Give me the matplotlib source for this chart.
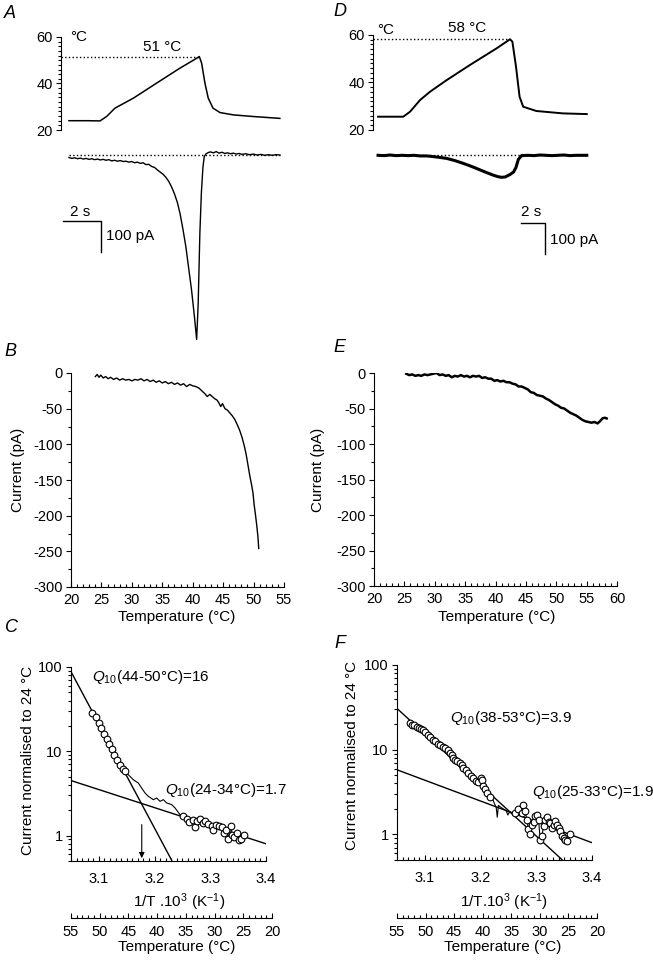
import numpy as np
import matplotlib.pyplot as plt
from matplotlib.ticker import MultipleLocator, LogLocator, NullFormatter, FormatStrFormatter

# ---------------- data ----------------
# A: temperature ramp (time s, degC) and membrane current (time s, pA)
a_time = [0, 1.0, 1.63, 1.98, 2.42, 3.39, 4.6, 5.84, 6.75, 6.86, 6.98, 7.16, 7.33,
          7.58, 7.95, 8.65, 9.7, 11.1]
a_temp = [24, 24, 23.9, 25.8, 29.4, 33.7, 40.1, 46.6, 51.0, 51.6, 48.8, 40, 33.7,
          29.4, 27.5, 26.5, 25.8, 25]
a_cur_t = [0.0, 0.15, 0.3, 0.45, 0.6, 0.75, 0.9, 1.05, 1.2, 1.35, 1.5, 1.65, 1.8, 1.95,
           2.1, 2.25, 2.4, 2.55, 2.7, 2.85, 3.0, 3.15, 3.3, 3.45, 3.6, 3.75, 3.9, 4.05,
           4.2, 4.35, 4.5, 4.65, 4.8, 4.95, 5.1, 5.25, 5.4, 5.55, 5.7, 5.85, 6.0, 6.15,
           6.3, 6.45, 6.6, 6.72, 6.8, 6.89, 6.97, 7.05, 7.12, 7.2, 7.33, 7.45, 7.6,
           7.75, 7.9, 8.05, 8.2, 8.35, 8.5, 8.65, 8.8, 8.95, 9.1, 9.3, 9.5, 9.7, 9.9,
           10.1, 10.3, 10.5, 10.7, 10.9, 11.1]
a_cur = [-8, -11, -9, -12, -10, -13, -11, -14, -12, -15, -13, -16, -14, -17,
         -15, -19, -17, -20, -18, -21, -20, -23, -21, -25, -23, -27, -25, -31,
         -30, -37, -40, -48, -55, -62, -72, -85, -103, -125, -152, -190, -240, -295,
         -365, -435, -520, -595, -480, -250, -120, -40, -5, 3, 8, 10, 7,
         11, 6, 9, 5, 7, 4, 6, 3, 5, 2, 4, 1, 3, 0,
         2, -1, 1, -1, 1, 0]

# D: temperature ramp and current
d_time = [0, 2.1, 2.67, 3.5, 4.33, 5.72, 7.67, 9.89, 11.0, 11.2, 11.5, 11.8, 12.1,
          13.2, 15.4, 17.4]
d_temp = [25.6, 25.6, 27.7, 32.6, 36.1, 41, 47.4, 54.4, 58.2, 57.2, 46.7, 34, 29.8,
          28, 27, 26.7]
d_cur_t = [0, 0.5, 1, 1.5, 2, 2.5, 3, 3.5, 4, 4.33, 5, 5.72, 6.4, 7.1, 7.8, 8.5, 9.0,
           9.6, 10.0, 10.3, 10.6, 11.0, 11.3, 11.5, 11.7, 11.97, 12.5, 13, 13.5, 14,
           14.5, 15, 15.5, 16, 16.5, 17, 17.4]
d_cur = [-1, -2, 0, -2, -1, -2, -1, -3, -3, -4, -7, -11, -18, -27, -37, -48, -56,
         -65, -70, -72, -71, -63, -55, -40, -14, -2, -1, -2, 0, -1,
         -2, -1, 0, -2, -1, -1, -1]

# B: current vs temperature
b_temp = [24.0, 24.3, 24.6, 24.9, 25.3, 25.7, 26.1, 26.5, 27, 27.5, 28, 28.5, 29, 29.5,
          30, 30.5, 31, 31.5, 32, 32.5, 33, 33.5, 34, 34.5, 35, 35.5, 36, 36.5, 37,
          37.5, 38, 38.5, 39, 39.5, 40, 40.5, 41, 41.5, 42, 42.4, 42.8, 43.2, 43.6,
          44, 44.3, 44.6, 44.9, 45.3, 45.7, 46.1, 46.5, 46.9, 47.3, 47.7, 48.1, 48.5,
          48.8, 49.1, 49.4, 49.7, 49.9, 50.1, 50.3, 50.5, 50.7, 50.85]
b_cur = [-5, -2, -6, -3, -7, -5, -8, -6, -9, -7, -10, -8, -10, -9,
         -11, -9, -10, -8, -11, -9, -12, -10, -13, -11, -14, -12, -15, -13, -16,
         -14, -17, -15, -19, -16, -18, -19, -21, -25, -29, -33, -30, -33, -36,
         -38, -42, -47, -43, -50, -52, -56, -60, -65, -72, -80, -90, -103,
         -115, -130, -145, -158, -168, -185, -198, -212, -228, -246]

# E: current vs temperature
e_temp = [25.3, 25.8, 26.3, 26.8, 27.3, 27.8, 28.3, 28.8, 29.3, 29.8, 30.3, 30.8, 31.3,
          31.8, 32.3, 32.8, 33.3, 33.8, 34.3, 34.8, 35.3, 35.8, 36.3, 36.8, 37.3, 37.8,
          38.3, 38.8, 39.3, 39.8, 40.3, 40.8, 41.3, 41.8, 42.3, 42.8, 43.3, 43.8, 44.3,
          44.8, 45.3, 45.8, 46.3, 46.8, 47.3, 47.8, 48.3, 48.8, 49.3, 49.8, 50.3, 50.8,
          51.3, 51.8, 52.3, 52.8, 53.3, 53.8, 54.3, 54.8, 55.3, 55.8, 56.3, 56.8, 57.2,
          57.6, 58.0, 58.3]
e_cur = [-1, -3, -2, -4, -3, -4, -2, -3, -2, -1, 0, -3, -2,
         -4, -3, -6, -4, -5, -3, -5, -4, -6, -4, -5, -4, -7,
         -6, -8, -8, -11, -10, -12, -11, -13, -13, -15, -16, -19, -19,
         -21, -23, -27, -28, -31, -32, -33, -36, -38, -41, -44, -46, -49,
         -50, -53, -56, -58, -60, -63, -66, -68, -69, -70, -69, -71, -68,
         -64, -63, -64]

# C: Arrhenius plot (1/T x 10^3, normalised current)
c_hi_x = [3.088, 3.095, 3.100, 3.1045, 3.109, 3.114, 3.119, 3.124, 3.128, 3.133,
          3.138, 3.143, 3.1475]
c_hi_y = [28.8, 25.4, 21.9, 18.8, 16.1, 13.9, 12.3, 10.6, 9.1, 7.9, 6.9, 6.2, 5.8]
c_mid_x = [3.1529, 3.1619, 3.1709, 3.1769, 3.1829, 3.1889, 3.1978, 3.2038, 3.2098,
           3.2158, 3.2218, 3.2308, 3.2367, 3.2457]
c_mid_y = [5.27, 4.6, 4.2, 3.66, 3.2, 2.92, 2.67, 2.79, 2.55, 2.67, 2.44, 2.33, 2.13, 1.77]
c_lo_x = [3.2505, 3.2577, 3.2624, 3.2684, 3.2726, 3.2768, 3.2816, 3.2864, 3.2912, 3.2966,
          3.3025, 3.3055, 3.3103, 3.3151, 3.3205, 3.3253, 3.3283, 3.3319, 3.3367, 3.3396,
          3.3432, 3.3486, 3.3522, 3.3558, 3.3612]
c_lo_y = [1.69, 1.59, 1.45, 1.55, 1.27, 1.50, 1.57, 1.41, 1.48, 1.39,
          1.31, 1.16, 1.35, 1.29, 1.27, 1.08, 1.16, 0.90, 1.29, 1.03,
          0.96, 1.06, 0.88, 0.90, 1.03]
c_fit_steep = ([3.05, 3.2307], [88, 0.51])
c_fit_flat = ([3.05, 3.4], [4.5, 0.80])
c_arrow_x = 3.177

# F: Arrhenius plot
f_hi_x = [3.073, 3.077, 3.081, 3.085, 3.089, 3.093, 3.097, 3.101, 3.106, 3.110, 3.115,
          3.119, 3.124, 3.128, 3.133, 3.137, 3.142, 3.145, 3.148, 3.151, 3.154, 3.158,
          3.163, 3.166, 3.169, 3.173, 3.178, 3.182, 3.187, 3.192, 3.196, 3.200, 3.202,
          3.205, 3.208, 3.211, 3.217]
f_hi_y = [20.6, 19.5, 19.8, 18.8, 18.0, 17.6, 16.9, 16.0, 15.0, 14.2, 13.1,
          12.6, 11.8, 11.3, 10.9, 10.6, 10.0, 9.2, 8.7, 8.0, 7.6, 7.4,
          7.0, 6.6, 6.1, 5.7, 5.3, 4.9, 4.6, 4.3, 4.2, 4.6, 4.4,
          3.7, 3.4, 3.1, 2.8]
f_mid_x = [3.221, 3.225, 3.228, 3.230, 3.232, 3.236, 3.241, 3.246, 3.249, 3.252, 3.257]
f_mid_y = [2.7, 2.3, 2.1, 1.6, 2.2, 2.1, 2.0, 1.9, 1.7, 1.85, 1.8]
f_lo_x = [3.262, 3.268, 3.274, 3.277, 3.280, 3.283, 3.286, 3.289, 3.292, 3.295, 3.298,
          3.301, 3.304, 3.307, 3.310, 3.313, 3.316, 3.319, 3.322, 3.325, 3.328, 3.331,
          3.334, 3.337, 3.340, 3.343, 3.346, 3.349, 3.352, 3.355, 3.361]
f_lo_y = [1.8, 2.0, 1.8, 2.2, 1.9, 1.5, 1.15, 1.0, 1.3, 1.4, 1.65,
          1.7, 1.5, 0.87, 0.95, 1.25, 1.5, 1.6, 1.4, 1.37, 1.2, 1.3,
          1.44, 1.3, 1.2, 1.1, 0.95, 0.9, 0.87, 0.83, 1.0]
f_fit_steep = ([3.05, 3.346], [30.7, 0.506])
f_fit_flat = ([3.05, 3.4], [5.8, 0.80])

temp_ticks = [55, 50, 45, 40, 35, 30, 25, 20]

# ---------------- figure ----------------
W, H = 653, 960
plt.rcParams['font.family'] = ['Liberation Sans', 'DejaVu Sans']
plt.rcParams['font.size'] = 11
plt.rcParams['xtick.labelsize'] = 10.5
plt.rcParams['ytick.labelsize'] = 10.5
plt.rcParams['axes.unicode_minus'] = False
plt.rcParams['mathtext.fontset'] = 'custom'
plt.rcParams['mathtext.rm'] = 'Liberation Sans'
plt.rcParams['mathtext.it'] = 'Liberation Sans:italic'

fig = plt.figure(figsize=(W / 100, H / 100), dpi=100)


def rect(l, t, r, b):
    return [l / W, 1 - b / H, (r - l) / W, (b - t) / H]


def txt(x, y, s, **kw):
    kw.setdefault('va', 'center')
    fig.text(x / W, 1 - y / H, s, **kw)


def bare(ax, left=True, bottom=True):
    for s in ['top', 'right']:
        ax.spines[s].set_visible(False)
    ax.spines['left'].set_visible(left)
    ax.spines['bottom'].set_visible(bottom)
    for s in ['left', 'bottom']:
        ax.spines[s].set_linewidth(0.8)
    ax.patch.set_alpha(0)


def yticks_out(ax):
    ax.tick_params(axis='y', which='major', direction='out', length=3.5, width=0.8, pad=2.5)
    ax.tick_params(axis='y', which='minor', direction='out', length=2, width=0.8)


def xticks_in(ax, pad):
    ax.tick_params(axis='x', which='major', direction='in', length=3.5, width=0.8, pad=pad)
    ax.tick_params(axis='x', which='minor', direction='in', length=2, width=0.8)


# ---- A ----
ax = fig.add_axes(rect(61, 37, 285, 130))
ax.plot(a_time, a_temp, color='k', lw=1.1)
ax.plot([-0.42, 6.86], [51.6, 51.6], color='k', lw=1, ls=':')
ax.set_xlim(-0.42, 11.37)
ax.set_ylim(20, 60)
bare(ax, bottom=False)
ax.set_xticks([])
ax.set_yticks([20, 40, 60])
ax.yaxis.set_minor_locator(MultipleLocator(2))
yticks_out(ax)

ax = fig.add_axes(rect(61, 140, 285, 350))
ax.plot(a_cur_t, a_cur, color='k', lw=1)
ax.plot([0, 11.1], [0, 0], color='k', lw=1, ls=':')
ax.plot([-0.32, 1.68, 1.68], [-213, -213, -313], color='k', lw=1, clip_on=False)
ax.set_xlim(-0.42, 11.37)
ax.set_ylim(-629, 48.4)
ax.axis('off')

txt(70, 37, '°C', ha='left')
txt(162, 47, '51 °C', ha='center')
txt(80, 212, '2 s', ha='center')
txt(106, 236, '100 pA', ha='left')

# ---- D ----
ax = fig.add_axes(rect(373, 35, 590, 130))
ax.plot(d_time, d_temp, color='k', lw=1.4)
ax.plot([-0.42, 11.0], [58.2, 58.2], color='k', lw=1, ls=':')
ax.set_xlim(-0.42, 17.67)
ax.set_ylim(20, 60)
bare(ax, bottom=False)
ax.set_xticks([])
ax.set_yticks([20, 40, 60])
ax.yaxis.set_minor_locator(MultipleLocator(2))
yticks_out(ax)

ax = fig.add_axes(rect(373, 140, 590, 300))
ax.plot(d_cur_t, d_cur, color='k', lw=2.2)
ax.plot([0, 17.4], [0, 0], color='k', lw=1, ls=':')
ax.plot([11.92, 13.92, 13.92], [-219, -219, -319], color='k', lw=1, clip_on=False)
ax.set_xlim(-0.42, 17.67)
ax.set_ylim(-468, 48.4)
ax.axis('off')

txt(377, 30, '°C', ha='left')
txt(467, 28, '58 °C', ha='center')
txt(531, 212, '2 s', ha='center')
txt(550, 240, '100 pA', ha='left')

# ---- B / E ----
for r, xs, ys, xmax, lw in [((71, 373, 284, 587), b_temp, b_cur, 55, 1.0),
                            ((374, 373, 617, 586), e_temp, e_cur, 60, 1.8)]:
    ax = fig.add_axes(rect(*r))
    ax.plot(xs, ys, color='k', lw=lw)
    ax.set_xlim(20, xmax)
    ax.set_ylim(-300, 0)
    bare(ax)
    ax.set_xticks(range(20, xmax + 1, 5))
    ax.xaxis.set_minor_locator(MultipleLocator(1))
    ax.set_yticks(range(-300, 1, 50))
    ax.yaxis.set_minor_locator(MultipleLocator(25))
    yticks_out(ax)
    xticks_in(ax, 4)

txt(18, 470, 'Current (pA)', ha='center', rotation=90)
txt(318, 470, 'Current (pA)', ha='center', rotation=90)
txt(177, 617, 'Temperature (°C)', ha='center')
txt(497, 617, 'Temperature (°C)', ha='center')

# ---- C / F ----
panels = [
    ((71, 667, 266, 861), (71, 917, 272, 918), c_hi_x, c_hi_y, c_mid_x, c_mid_y,
     c_lo_x, c_lo_y, c_fit_steep, c_fit_flat),
    ((397, 665, 592, 860), (397, 917, 597, 918), f_hi_x, f_hi_y, f_mid_x, f_mid_y,
     f_lo_x, f_lo_y, f_fit_steep, f_fit_flat),
]
axes_cf = []
for r, rt, hx, hy, mx, my, lx, ly, fs, ff in panels:
    ax = fig.add_axes(rect(*r))
    ax.set_yscale('log')
    ax.plot(hx + mx + lx, hy + my + ly, color='k', lw=0.8, zorder=2)
    ax.plot(*fs, color='k', lw=1, zorder=1)
    ax.plot(*ff, color='k', lw=1, zorder=1)
    ax.plot(hx + lx, hy + ly, ls='none', marker='o', ms=4.8, mfc='white',
            mec='k', mew=0.8, zorder=3)
    ax.set_xlim(3.05, 3.4)
    ax.set_ylim(0.5, 100)
    bare(ax)
    ax.set_xticks([3.1, 3.2, 3.3, 3.4])
    ax.xaxis.set_major_formatter(FormatStrFormatter('%.1f'))
    ax.xaxis.set_minor_locator(MultipleLocator(0.01))
    ax.set_yticks([1, 10, 100])
    ax.set_yticklabels(['1', '10', '100'])
    ax.yaxis.set_minor_locator(LogLocator(base=10, subs=np.arange(2, 10)))
    ax.yaxis.set_minor_formatter(NullFormatter())
    yticks_out(ax)
    xticks_in(ax, 8)
    axes_cf.append(ax)

    axt = fig.add_axes(rect(*rt))
    bare(axt, left=False)
    axt.set_xlim(55, 20)
    axt.set_yticks([])
    axt.set_xticks(temp_ticks)
    axt.xaxis.set_minor_locator(MultipleLocator(1))
    xticks_in(axt, 5)

axes_cf[0].annotate('', xy=(c_arrow_x, 0.54), xytext=(c_arrow_x, 1.35),
                    arrowprops=dict(arrowstyle='-|>', color='k', lw=0.8,
                                    mutation_scale=8, shrinkA=0, shrinkB=0))

txt(92, 677, r'$Q_{10}$(44-50°C)=16', ha='left')
txt(165, 790, r'$Q_{10}$(24-34°C)=1.7', ha='left')
txt(450, 718, r'$Q_{10}$(38-53°C)=3.9', ha='left')
txt(532, 792, r'$Q_{10}$(25-33°C)=1.9', ha='left')

txt(28, 760, 'Current normalised to 24 °C', ha='center', rotation=90)
txt(352, 755, 'Current normalised to 24 °C', ha='center', rotation=90)
txt(179, 902, r'1/T .10$^{3}$ (K$^{-1}$)', ha='center')
txt(504, 902, r'1/T.10$^{3}$ (K$^{-1}$)', ha='center')
txt(177, 947, 'Temperature (°C)', ha='center')
txt(503, 947, 'Temperature (°C)', ha='center')

# panel letters
for x, y, s in [(10, 14, 'A'), (340, 12, 'D'), (10, 352, 'B'), (339, 348, 'E'),
                (11, 627, 'C'), (340, 643, 'F')]:
    txt(x, y, s, ha='center', fontsize=13, style='italic')

fig.savefig('out.png', dpi=100)
